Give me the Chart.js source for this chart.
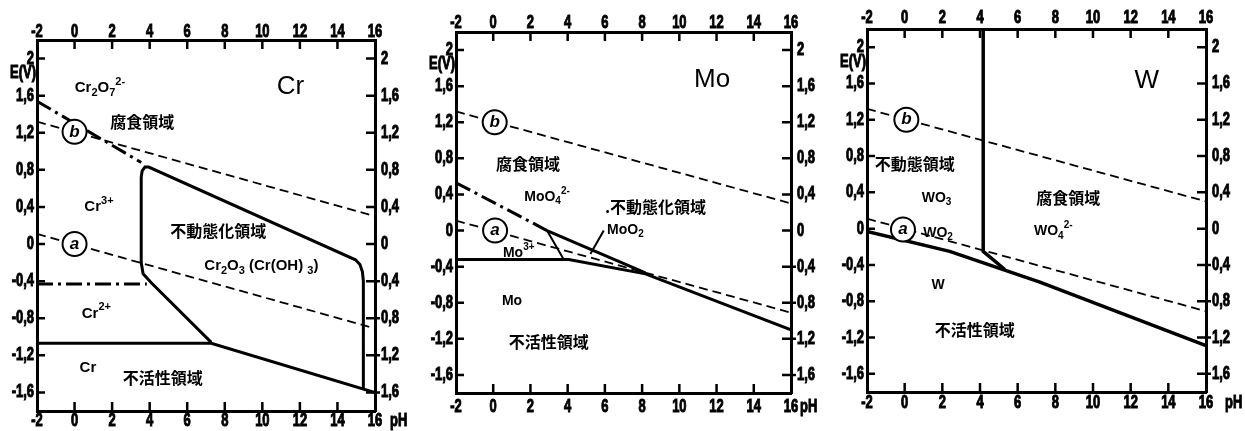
<!DOCTYPE html>
<html>
<head>
<meta charset="utf-8">
<script src="https://cdn.jsdelivr.net/npm/chart.js@4.4.1/dist/chart.umd.min.js"></script>
<style>
  body { margin: 0; background: #fff; width: 1245px; height: 431px; overflow: hidden; position: relative; }
  .panel { position: absolute; top: 0; width: 415px; height: 431px; }
</style>
</head>
<body>
<div class="panel" style="left:0"><canvas id="crChart"></canvas></div>
<div class="panel" style="left:415px"><canvas id="moChart"></canvas></div>
<div class="panel" style="left:830px"><canvas id="wChart"></canvas></div>
<script>
// axis ticks
const xTicks = [-2, 0, 2, 4, 6, 8, 10, 12, 14, 16];
const yTicks = [-1.6, -1.2, -0.8, -0.4, 0, 0.4, 0.8, 1.2, 1.6, 2];
const yLabelsLeft = ['-1,6', '-1,2', '-0,8', '-0,4', '0', '0,4', '0,8', '1,2', '1,6', '2'];
const yLabelsRight = ['1,6', '1,2', '0,8', '0,4', '0', '0,4', '0,8', '1,2', '1,6', '2'];

// water stability lines (a = hydrogen, b = oxygen), [pH, E]
const lineA = [[-2, 0.11], [16, -0.91]];
const lineB = [[-2, 1.32], [16, 0.30]];

// Cr
const crDichromate = [[-2, 1.54], [3.55, 0.88]];
const crDivalent = [[-2, -0.43], [3.85, -0.43]];
const crPassive = [[7.28, -1.06], [4.1, -0.42], [3.65, -0.32], [3.55, -0.2], [3.55, 0.72], [3.6, 0.79],
  [3.75, 0.83], [3.95, 0.83], [14.96, -0.17], [15.2, -0.22], [15.33, -0.3], [15.38, -0.4], [15.38, -1.56]];
const crImmune = [[-2, -1.07], [7.28, -1.07], [16, -1.6]];

// Mo
const moDashDot = [[-2, 0.53], [2.89, 0.0]];
const moOxide = [[2.89, 0.0], [8.18, -0.47]];
const moTrivalent = [[2.89, 0.0], [3.79, -0.32]];
const moImmune = [[-2, -0.32], [4.06, -0.32], [8.18, -0.48], [16, -1.1]];
const moPointer = [[5.94, 0.0], [5.22, -0.26]];

// W
const wPassive = [[4.17, 2.2], [4.17, -0.25], [5.32, -0.45]];
const wImmune = [[-2, -0.03], [2.39, -0.25], [7.18, -0.59], [16, -1.29]];

const TICK_FONT = 'bold 18px "Liberation Sans", Arial, sans-serif';
const JP_FONT = '"Noto Sans CJK JP", sans-serif';

const pts = arr => arr.map(([x, y]) => ({ x, y }));

const solid = (arr, w) => ({ data: pts(arr), borderColor: '#000', borderWidth: w || 3, showLine: true, pointRadius: 0, fill: false });
const dashed = arr => ({ data: pts(arr), borderColor: '#000', borderWidth: 1.8, borderDash: [9, 5], showLine: true, pointRadius: 0, fill: false });
const dashDot = arr => ({ data: pts(arr), borderColor: '#000', borderWidth: 3, borderDash: [16, 5, 3, 5], showLine: true, pointRadius: 0, fill: false });

// condensed heavy text like the scanned tick labels
function narrow(ctx, text, x, y, align) {
  ctx.save();
  ctx.translate(x, y);
  ctx.scale(0.72, 1);
  ctx.font = TICK_FONT;
  ctx.textAlign = align;
  ctx.textBaseline = 'middle';
  ctx.lineWidth = 1;
  ctx.strokeText(text, 0, 0);
  ctx.fillText(text, 0, 0);
  ctx.restore();
}

// text with _x subscripts and ^{..} superscripts
function drawRich(ctx, str, x, y, size, weight, family) {
  const parts = [];
  let i = 0;
  while (i < str.length) {
    if (str[i] === '_') { parts.push({ t: str[i + 1], m: 'sub' }); i += 2; }
    else if (str[i] === '^') { const e = str.indexOf('}', i); parts.push({ t: str.slice(i + 2, e), m: 'sup' }); i = e + 1; }
    else {
      let j = i;
      while (j < str.length && str[j] !== '_' && str[j] !== '^') j++;
      parts.push({ t: str.slice(i, j), m: 'n' }); i = j;
    }
  }
  const fontFor = m => `${weight} ${m === 'n' ? size : Math.round(size * 0.7)}px ${family}`;
  let total = 0;
  parts.forEach(p => { ctx.font = fontFor(p.m); p.w = ctx.measureText(p.t).width; total += p.w; });
  let cx = x - total / 2;
  ctx.textAlign = 'left';
  ctx.textBaseline = 'middle';
  parts.forEach(p => {
    ctx.font = fontFor(p.m);
    const dy = p.m === 'sub' ? size * 0.32 : p.m === 'sup' ? -size * 0.42 : 0;
    ctx.fillText(p.t, cx, y + dy);
    cx += p.w;
  });
}

const notesPlugin = {
  id: 'notes',
  afterDraw(chart, args, opts) {
    const { ctx, chartArea: ca, scales } = chart;
    const sx = scales.x, sy = scales.y;
    ctx.save();
    ctx.strokeStyle = '#000';
    ctx.fillStyle = '#000';

    // inward tick marks
    ctx.lineWidth = 2.5;
    ctx.beginPath();
    xTicks.filter(v => v > -2 && v < 16).forEach(v => {
      const px = sx.getPixelForValue(v);
      ctx.moveTo(px, ca.bottom); ctx.lineTo(px, ca.bottom - 9);
      ctx.moveTo(px, ca.top); ctx.lineTo(px, ca.top + 9);
    });
    yTicks.forEach(v => {
      const py = sy.getPixelForValue(v);
      ctx.moveTo(ca.left, py); ctx.lineTo(ca.left + 8, py);
      ctx.moveTo(ca.right - 9, py); ctx.lineTo(ca.right + (v < 0 ? 5 : 0), py);
    });
    ctx.stroke();

    // tick labels
    xTicks.forEach(v => {
      const px = sx.getPixelForValue(v);
      narrow(ctx, String(v), px, ca.top - opts.topGap, 'center');
      narrow(ctx, String(v), px, ca.bottom + opts.bottomGap, 'center');
    });
    yTicks.forEach((v, i) => {
      const py = sy.getPixelForValue(v);
      narrow(ctx, yLabelsLeft[i], ca.left - 3, py, 'right');
      narrow(ctx, yLabelsRight[i], ca.right + 6, py, 'left');
    });
    narrow(ctx, 'E(V)', ca.left - 1, sy.getPixelForValue(1.84), 'right');
    narrow(ctx, 'pH', ca.right + opts.phDx, ca.bottom + opts.bottomGap, 'left');

    (opts.items || []).forEach(n => {
      const px = sx.getPixelForValue(n.x), py = sy.getPixelForValue(n.y);
      if (n.kind === 'circle') {
        ctx.beginPath();
        ctx.arc(px, py, 12, 0, Math.PI * 2);
        ctx.fillStyle = '#fff';
        ctx.fill();
        ctx.lineWidth = 2;
        ctx.stroke();
        ctx.fillStyle = '#000';
        ctx.font = 'italic bold 17px "Liberation Sans", sans-serif';
        ctx.textAlign = 'center';
        ctx.textBaseline = 'middle';
        ctx.fillText(n.text, px, py);
      } else if (n.kind === 'big') {
        drawRich(ctx, n.text, px, py, 26, 'normal', '"Liberation Sans", sans-serif');
      } else if (n.kind === 'jp') {
        drawRich(ctx, n.text, px, py, 16, 'bold', JP_FONT);
      } else {
        drawRich(ctx, n.text, px, py, opts.chemSize || 14, 'bold', '"Liberation Sans", sans-serif');
      }
    });
    ctx.restore();
  }
};

function makeScales(box) {
  const base = { type: 'linear', grid: { display: false }, ticks: { display: false }, border: { display: true, color: '#000', width: 3 } };
  const xAxis = (position, h) => ({
    ...base, position, min: -2, max: 16,
    afterBuildTicks: s => { s.ticks = xTicks.map(v => ({ value: v })); },
    afterFit: s => { s.height = h; }
  });
  const yAxis = (position, w) => ({
    ...base, position, min: -1.8, max: 2.2,
    afterBuildTicks: s => { s.ticks = yTicks.map(v => ({ value: v })); },
    afterFit: s => { s.width = w; }
  });
  return { x: xAxis('bottom', box.b), x2: xAxis('top', box.t), y: yAxis('left', box.l), y2: yAxis('right', box.r) };
}

function makeChart(id, datasets, items, box, extra) {
  new Chart(document.getElementById(id), {
    type: 'scatter',
    data: { datasets },
    options: {
      responsive: true,
      maintainAspectRatio: false,
      animation: false,
      layout: { padding: 0 },
      scales: makeScales(box),
      plugins: {
        legend: { display: false },
        tooltip: { enabled: false },
        notes: { items, ...extra }
      }
    },
    plugins: [notesPlugin]
  });
}

makeChart('crChart',
  [dashed(lineA), dashed(lineB), dashDot(crDichromate), dashDot(crDivalent), solid(crPassive), solid(crImmune)],
  [
    { text: 'Cr', x: 11.5, y: 1.70, kind: 'big' },
    { text: 'Cr_2O_7^{2-}', x: 1.35, y: 1.68 },
    { text: '腐食領域', x: 3.6, y: 1.32, kind: 'jp' },
    { text: 'Cr^{3+}', x: 1.3, y: 0.40 },
    { text: '不動態化領域', x: 7.65, y: 0.14, kind: 'jp' },
    { text: 'Cr_2O_3 (Cr(OH) _3)', x: 9.95, y: -0.24 },
    { text: 'Cr^{2+}', x: 1.16, y: -0.75 },
    { text: 'Cr', x: 0.71, y: -1.34 },
    { text: '不活性領域', x: 4.7, y: -1.44, kind: 'jp' },
    { text: 'b', x: 0, y: 1.21, kind: 'circle' },
    { text: 'a', x: 0, y: 0, kind: 'circle' }
  ],
  { l: 37, r: 40, t: 40, b: 20 }, { chemSize: 15, topGap: 8, bottomGap: 10, phDx: 15 });

makeChart('moChart',
  [dashed(lineA), dashed(lineB), dashDot(moDashDot), solid(moOxide), solid(moTrivalent, 2), solid(moImmune), solid(moPointer, 2)],
  [
    { text: 'Mo', x: 11.76, y: 1.67, kind: 'big' },
    { text: '腐食領域', x: 1.87, y: 0.74, kind: 'jp' },
    { text: 'MoO_4^{2-}', x: 2.89, y: 0.37 },
    { text: '.不動態化領域', x: 8.72, y: 0.26, kind: 'jp' },
    { text: 'MoO_2', x: 7.1, y: 0.01 },
    { text: 'Mo^{3+}', x: 1.37, y: -0.25 },
    { text: 'Mo', x: 1.01, y: -0.78 },
    { text: '不活性領域', x: 2.98, y: -1.23, kind: 'jp' },
    { text: 'b', x: 0.08, y: 1.2, kind: 'circle' },
    { text: 'a', x: 0.1, y: 0, kind: 'circle' }
  ],
  { l: 41, r: 39, t: 32, b: 38 }, { chemSize: 14, topGap: 9, bottomGap: 14, phDx: 9 });

makeChart('wChart',
  [dashed(lineA), dashed(lineB), solid(wPassive, 3.5), solid(wImmune, 3.5)],
  [
    { text: 'W', x: 12.86, y: 1.63, kind: 'big' },
    { text: '不動態領域', x: 0.53, y: 0.71, kind: 'jp' },
    { text: 'WO_3', x: 1.69, y: 0.34 },
    { text: '腐食領域', x: 8.69, y: 0.34, kind: 'jp' },
    { text: 'WO_4^{2-}', x: 7.89, y: -0.03 },
    { text: 'WO_2', x: 1.77, y: -0.05 },
    { text: 'W', x: 1.77, y: -0.62 },
    { text: '不活性領域', x: 3.72, y: -1.12, kind: 'jp' },
    { text: 'b', x: 0.09, y: 1.2, kind: 'circle' },
    { text: 'a', x: -0.09, y: -0.01, kind: 'circle' }
  ],
  { l: 37, r: 39, t: 29, b: 39 }, { chemSize: 14, topGap: 11, bottomGap: 11, phDx: 19 });
</script>
</body>
</html>
